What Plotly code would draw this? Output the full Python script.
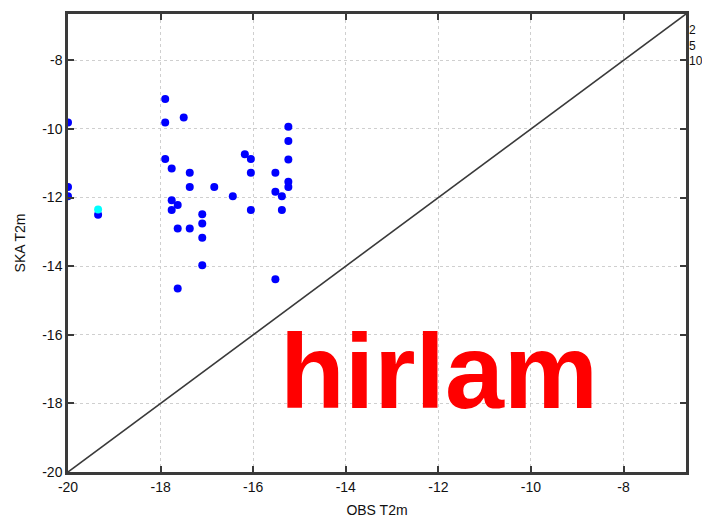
import plotly.graph_objects as go

# Observed vs. forecast 2 m temperature at SKA
obs_t2m = [-17.90, -20.00, -17.90, -17.50, -17.90, -17.76, -17.37, -17.37, -16.84, -16.44,
           -16.18, -16.05, -16.05, -16.05, -20.00, -20.00, -19.35, -17.76, -17.76, -17.63,
           -17.10, -17.10, -17.10, -17.63, -17.37, -17.10, -17.63, -15.52, -15.52, -15.52,
           -15.24, -15.24, -15.24, -15.24, -15.24, -15.38, -15.38]
ska_t2m = [-9.13, -9.81, -9.81, -9.67, -10.88, -11.15, -11.28, -11.69, -11.69, -11.96,
           -10.74, -10.88, -11.28, -12.36, -11.69, -11.96, -12.50, -12.08, -12.36, -12.22,
           -12.49, -12.76, -13.17, -12.90, -12.90, -13.97, -14.65, -11.28, -11.83, -14.38,
           -9.94, -10.35, -10.89, -11.54, -11.69, -11.96, -12.36]

# Highlighted single point
hi_obs = [-19.35]
hi_ska = [-12.35]

axis_range = [-20, -6.65]
tick_vals = [-20, -18, -16, -14, -12, -10, -8]
tick_text = ["-20", "-18", "-16", "-14", "-12", "-10", "-8"]
size_labels = ["2", "5", "10"]
size_label_y = [-7.13, -7.58, -8.03]

fig = go.Figure()

# 1:1 reference line
fig.add_trace(go.Scatter(
    x=axis_range, y=axis_range, mode="lines",
    line=dict(color="#3a3a3a", width=1.6), hoverinfo="skip", showlegend=False))

fig.add_trace(go.Scatter(
    x=obs_t2m, y=ska_t2m, mode="markers",
    marker=dict(color="#0000ff", size=8, line=dict(width=0)), showlegend=False))

fig.add_trace(go.Scatter(
    x=hi_obs, y=hi_ska, mode="markers",
    marker=dict(color="#00ffff", size=8, line=dict(width=0)), showlegend=False))

font_base = dict(family="Liberation Sans, Arial", size=14, color="#111111")

axis_common = dict(
    range=axis_range, tickvals=tick_vals, ticktext=tick_text, ticks="inside", ticklen=6,
    tickwidth=1.5, tickcolor="#3a3a3a", showline=True, linecolor="#3a3a3a", linewidth=2.5,
    mirror="ticks", showgrid=True, gridcolor="#cfcfcf", griddash="dot", gridwidth=1,
    zeroline=False, tickfont=font_base,
)

fig.update_xaxes(**axis_common, title=dict(text="OBS T2m", standoff=12, font=font_base))
fig.update_yaxes(**axis_common, title=dict(text="SKA T2m", standoff=14, font=font_base))

annotations = [
    dict(text="<b>hirlam</b>", x=-11.99, y=-17.07, xref="x", yref="y", showarrow=False,
         font=dict(family="Liberation Sans, Arial", size=106, color="#ff0000"),
         xanchor="center", yanchor="middle"),
]
for lab, ly in zip(size_labels, size_label_y):
    annotations.append(dict(text=lab, xref="paper", yref="y", x=1.0, xshift=1, y=ly,
                            xanchor="left", yanchor="middle", showarrow=False,
                            font=dict(family="Liberation Sans, Arial", size=12, color="#111111")))
fig.update_layout(annotations=annotations)

fig.update_layout(
    width=702, height=527,
    margin=dict(l=68, r=16, t=11, b=53),
    paper_bgcolor="white", plot_bgcolor="white",
    showlegend=False,
)

fig.write_html("out.html")
